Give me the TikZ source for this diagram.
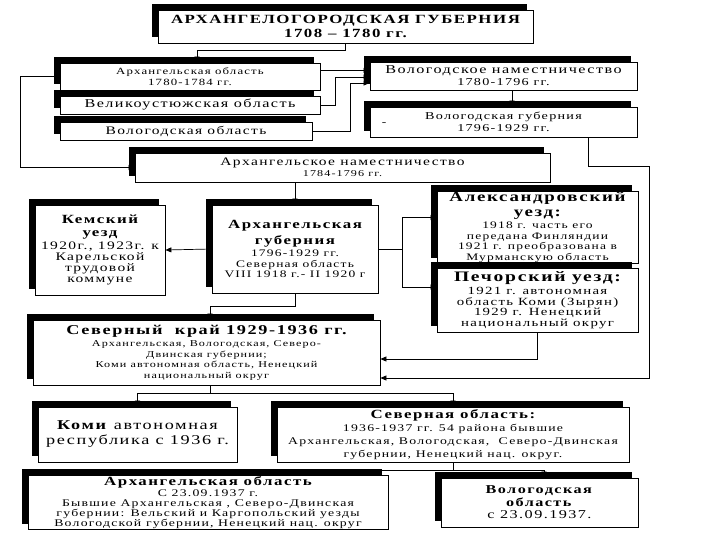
\documentclass[tikz,border=0pt]{standalone}
\usepackage{fontspec}
\setmainfont{Liberation Serif}[FakeStretch=1.35, LetterSpace=12]
\usetikzlibrary{arrows.meta, shadows, calc}
\newcommand{\razm}[2]{\fontsize{#1}{#2}\selectfont}

\begin{document}
\begin{tikzpicture}[x=1pt, y=-1pt,
    blk/.style={draw, line width=0.8pt, fill=white, align=center, inner sep=1pt,
        general shadow={fill=black, shadow xshift=-6pt, shadow yshift=6pt}},
    strl/.style={line width=0.7pt, -{Triangle[length=6pt, width=5pt]}}]

    \useasboundingbox (0,0) rectangle (720,540);

    % Верхние блоки
    \node[blk, minimum width=375, minimum height=33, font=\razm{12.5}{14}\bfseries] (agub) at (345.5,26.5)
        {АРХАНГЕЛОГОРОДСКАЯ ГУБЕРНИЯ\\1708 – 1780 гг.};
    \node[blk, minimum width=260, minimum height=27, font=\razm{9.5}{11}] (aobl) at (190,76.5)
        {Архангельская область\\1780-1784 гг.};
    \node[blk, minimum width=260, minimum height=18, font=\razm{12}{13}] (velik) at (190,105)
        {Великоустюжская область};
    \node[blk, minimum width=252, minimum height=18, font=\razm{11.5}{13}] (vobl) at (186,131)
        {Вологодская область};
    \node[blk, minimum width=267, minimum height=28, font=\razm{10.5}{12}] (vologn) at (503.5,76)
        {{\razm{12}{13}Вологодское наместничество}\\1780-1796 гг.};
    \node[blk, minimum width=267, minimum height=30, font=\razm{10.5}{12}] (vologgub) at (503.5,122)
        {{\razm{10.5}{12}Вологодская губерния}\\1796-1929 гг.};
    \node (cherta) at (384,124) {\razm{10}{11}-};
    \node[blk, minimum width=415, minimum height=29, font=\razm{9}{11.5}] (anam) at (342.5,167.5)
        {{\razm{11.5}{12}Архангельское наместничество}\\1784-1796 гг.};

    % Средние блоки
    \node[blk, minimum width=130, minimum height=90, font=\razm{11.5}{11}] (kemsk) at (100,250)
        {{\razm{12.5}{12}\bfseries Кемский}\\[2pt]{\razm{12.5}{12}\bfseries уезд}\\[2pt]1920г., 1923г. к\\Карельской\\трудовой\\коммуне};
    \node[blk, minimum width=166, minimum height=88, font=\razm{10}{10.5}] (agubern) at (295,249)
        {{\razm{12.5}{12}\bfseries Архангельская}\\[3pt]{\razm{12.5}{12}\bfseries губерния}\\[2pt]1796-1929 гг.\\Северная область\\VIII 1918 г.- II 1920 г};
    \node[blk, minimum width=201, minimum height=71, font=\razm{10}{10.5}] (alex) at (537.5,227.5)
        {{\razm{14}{12}\bfseries Александровский}\\[4pt]{\razm{14}{12}\bfseries уезд:}\\[2pt]1918 г. часть его\\передана Финляндии\\1921 г. преобразована в\\Мурманскую область};
    \node[blk, minimum width=201, minimum height=64, font=\razm{11}{10.5}] (pech) at (537.5,300)
        {{\razm{14.5}{12}\bfseries Печорский уезд:}\\[3pt]1921 г. автономная\\область Коми (Зырян)\\1929 г. Ненецкий\\национальный округ};
    \node[blk, minimum width=347, minimum height=65, font=\razm{9}{10.5}] (sevkr) at (206.5,352.5)
        {{\razm{13.5}{12}\bfseries Северный\ \ край 1929-1936 гг.}\\[2pt]Архангельская, Вологодская, Северо-\\Двинская губернии;\\Коми автономная область, Ненецкий\\национальный округ};

    % Нижние блоки
    \node[blk, minimum width=199, minimum height=55, font=\razm{13.5}{15}] (komi) at (137.5,434.5)
        {\textbf{Коми} автономная\\республика с 1936 г.};
    \node[blk, minimum width=352, minimum height=55, font=\razm{10.2}{13}] (sevobl) at (453,434.5)
        {{\razm{12.5}{13}\bfseries Северная область:}\\1936-1937 гг. 54 района бывшие\\Архангельская, Вологодская,\ \ Северо-Двинская\\губернии, Ненецкий нац. округ.};
    \node[blk, minimum width=360, minimum height=49, font=\razm{10.2}{10}] (aobl37) at (208,502.5)
        {{\razm{12.5}{11}\bfseries Архангельская область}\\[1pt]С 23.09.1937 г.\\Бывшие Архангельская , Северо-Двинская\\губернии: Вельский и Каргопольский уезды\\Вологодской губернии, Ненецкий нац. округ};
    \node[blk, minimum width=197, minimum height=49, font=\razm{12}{12.5}] (vobl37) at (539.5,502.5)
        {\textbf{Вологодская}\\\textbf{область}\\с 23.09.1937.};

    % Стрелки сверху
    \draw[strl] (agub.south) -- ++(0,7) -| ([xshift=7]aobl.north);
    \draw[strl] (aobl.west) -- ++(-39,0) |- (anam.west);
    \draw[strl] ([yshift=6]aobl.east) -- ([yshift=6]aobl.east -| vologn.west);
    \draw[strl] (velik.east) -- ++(15,0) |- ([yshift=-1]vologn.west);
    \draw[strl] (vobl.east) -- ++(38,0) |- ([yshift=-7]vologn.west);
    \draw[strl] ([xshift=8.5]vologn.south) -- ([xshift=8.5]vologgub.north);

    % Стрелки в середине
    \coordinate (pravo) at (649,378);
    \draw[strl] ([xshift=84.5]vologgub.south) -- ++(0,29) -| (pravo) -- (pravo -| sevkr.east);
    \draw[strl] (pech.south) |- ([yshift=-6.5]sevkr.east);
    \draw[strl] (anam.south -| agubern.north) -- (agubern.north);
    \draw[strl] (agubern.west) -- (kemsk.east);
    \draw[strl] (agubern.east) -- ++(24,0) |- ([yshift=10]alex.west);
    \draw[strl] (agubern.east) -- ++(24,0) |- ([yshift=13]pech.west);
    \draw[strl] (agubern.south) -- ++(0,13) -| ([xshift=3.5]sevkr.north);

    % Стрелки снизу
    \draw[strl] ([xshift=3.5]sevkr.south) -- ++(0,8) -| (komi.north);
    \draw[strl] ([xshift=3.5]sevkr.south) -- ++(0,8) -| (sevobl.north);
    \draw[strl] (sevobl.south) -- ++(0,8) -| ([xshift=6]aobl37.north);
    \draw[strl] (sevobl.south) -- ++(0,8) -| ([xshift=4.5]vobl37.north);

\end{tikzpicture}
\end{document}
